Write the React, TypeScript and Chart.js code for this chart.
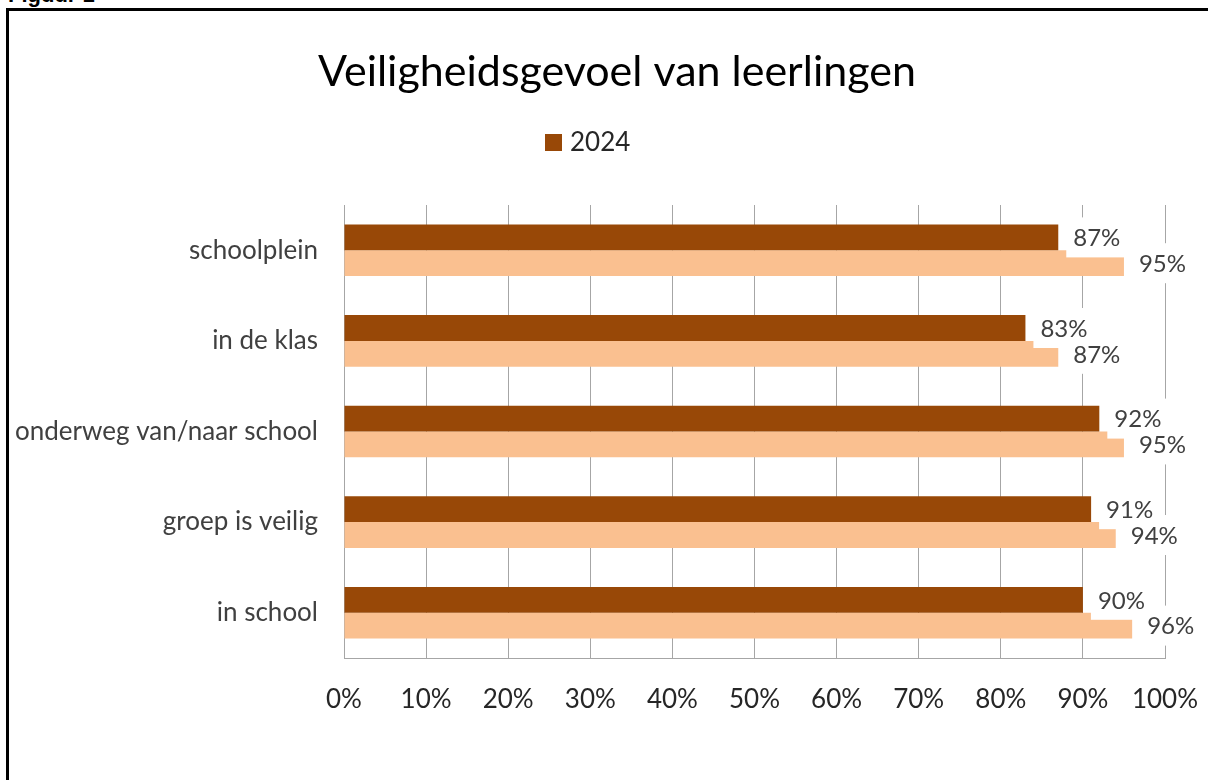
import React, { useEffect, useRef } from "react";
import { Chart, registerables } from "chart.js";

Chart.register(...registerables);

const categories = [
  "schoolplein",
  "in de klas",
  "onderweg van/naar school",
  "groep is veilig",
  "in school",
];
const values2024 = [87, 83, 92, 91, 90];
const valuesPrevious = [95, 87, 95, 94, 96];
const seriesLabels = ["2024", "vorige meting"];
const legendShown = ["2024"];
const xTickValues = [0, 10, 20, 30, 40, 50, 60, 70, 80, 90, 100];
const titleText = "Veiligheidsgevoel van leerlingen";
const figureCaption = "Figuur 1";

const DARK = "#984807";
const LIGHT = "#FAC090";
const FONT = "Lato, 'Open Sans', sans-serif";
const TEXT = "#262626";

export default function App() {
  const ref = useRef<HTMLCanvasElement | null>(null);

  useEffect(() => {
    const canvas = ref.current;
    if (!canvas) return;

    const overlay = {
      id: "overlay",
      afterDatasetsDraw(chart: any) {
        const ctx = chart.ctx;
        ctx.save();
        ctx.font = `24px ${FONT}`;
        ctx.textBaseline = "middle";
        ctx.textAlign = "left";
        const items: { x: number; y: number; txt: string }[] = [];
        chart.data.datasets.forEach((ds: any, di: number) => {
          const meta = chart.getDatasetMeta(di);
          meta.data.forEach((bar: any, i: number) => {
            const txt = ds.data[i] + "%";
            const w = ctx.measureText(txt).width;
            const x0 = bar.x + 8;
            ctx.fillStyle = "#ffffff";
            ctx.fillRect(x0, bar.y - 20, w + 16, 40);
            items.push({ x: x0 + 7, y: bar.y + 1, txt });
          });
        });
        ctx.fillStyle = "#404040";
        items.forEach((it) => ctx.fillText(it.txt, it.x, it.y));
        ctx.restore();
      },
      afterDraw(chart: any) {
        const ctx = chart.ctx;
        ctx.save();
        ctx.fillStyle = "#000000";
        ctx.font = `43px ${FONT}`;
        ctx.textAlign = "center";
        ctx.textBaseline = "middle";
        ctx.fillText(titleText, 617, 72);
        chart.data.datasets.forEach((ds: any) => {
          if (!legendShown.includes(ds.label)) return;
          ctx.fillStyle = ds.backgroundColor;
          ctx.fillRect(545, 134, 17, 17);
          ctx.fillStyle = TEXT;
          ctx.font = `26px ${FONT}`;
          ctx.textAlign = "left";
          ctx.fillText(ds.label, 570, 143);
        });
        ctx.restore();
      },
    };

    const chart = new Chart(canvas, {
      type: "bar",
      data: {
        labels: categories,
        datasets: [
          {
            label: seriesLabels[0],
            data: values2024,
            backgroundColor: DARK,
            categoryPercentage: 0.57,
            barPercentage: 1,
          },
          {
            label: seriesLabels[1],
            data: valuesPrevious,
            backgroundColor: LIGHT,
            categoryPercentage: 0.57,
            barPercentage: 1,
          },
        ],
      },
      options: {
        indexAxis: "y",
        responsive: false,
        animation: false,
        layout: { padding: { top: 205, right: 43, bottom: 0, left: 0 } },
        plugins: {
          legend: { display: false },
          title: { display: false },
          tooltip: { enabled: false },
        },
        scales: {
          x: {
            min: 0,
            max: 100,
            afterBuildTicks(scale: any) {
              scale.ticks = xTickValues.map((v) => ({ value: v }));
            },
            afterFit(scale: any) {
              scale.height = 122;
              scale.paddingLeft = 0;
              scale.paddingRight = 0;
            },
            grid: {
              color: "#A6A6A6",
              lineWidth: 1,
              drawTicks: false,
            },
            border: { color: "#A6A6A6", width: 1 },
            ticks: {
              padding: 26,
              color: TEXT,
              font: { family: FONT, size: 26 },
              maxRotation: 0,
              callback: (v: any) => v + "%",
            },
          },
          y: {
            afterFit(scale: any) {
              scale.width = 344;
            },
            grid: { display: false, drawTicks: false },
            border: { color: "#A6A6A6", width: 1 },
            ticks: {
              padding: 26,
              color: "#404040",
              font: { family: FONT, size: 26 },
            },
          },
        },
      },
      plugins: [overlay],
    } as any);

    return () => chart.destroy();
  }, []);

  return (
    <div style={{ position: "relative", width: 1208, height: 780, overflow: "hidden" }}>
      <style>{"html,body{margin:0;padding:0;overflow:hidden;background:#fff}"}</style>
      <div
        style={{
          position: "absolute",
          left: 8,
          top: -16,
          font: "bold 22px 'Liberation Sans', Arial, sans-serif",
          lineHeight: "22px",
          color: "#000",
          whiteSpace: "nowrap",
        }}
      >
        {figureCaption}
      </div>
      <div
        style={{
          position: "absolute",
          left: 6,
          top: 8,
          width: 1240,
          height: 820,
          border: "3px solid #000",
          boxSizing: "border-box",
        }}
      />
      <canvas
        ref={ref}
        width={1208}
        height={780}
        style={{ position: "absolute", left: 0, top: 0, width: 1208, height: 780 }}
      />
    </div>
  );
}
